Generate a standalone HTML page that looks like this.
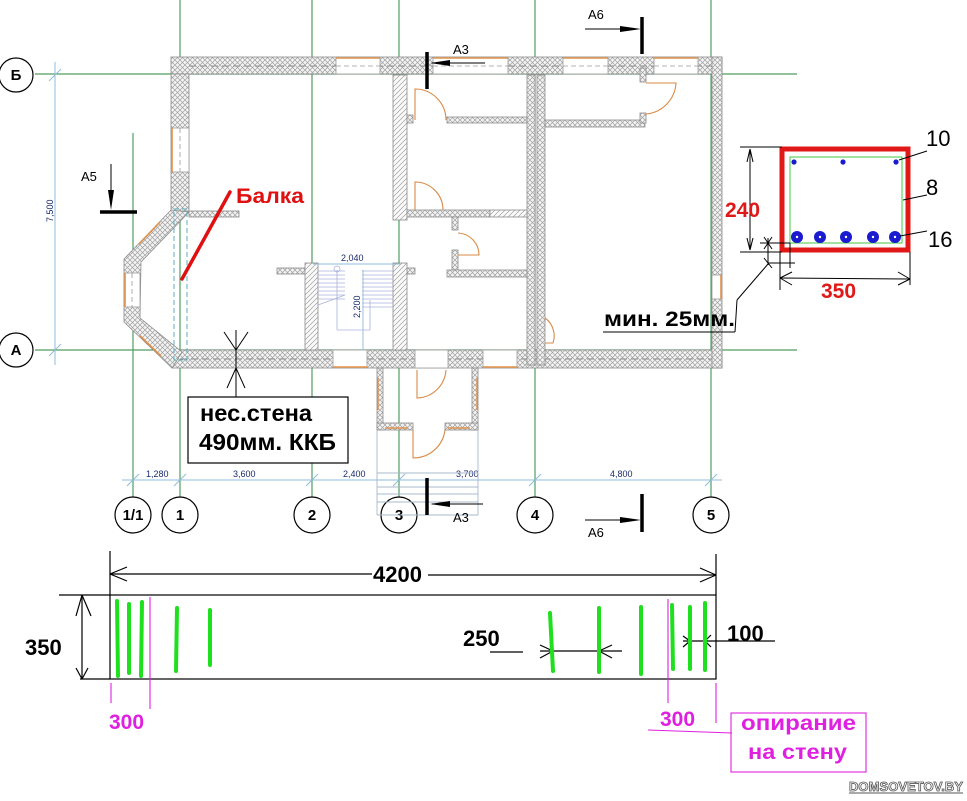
<!DOCTYPE html>
<html><head><meta charset="utf-8"><style>
html,body{margin:0;padding:0;background:#fff;}
svg{display:block;}
text{font-family:"Liberation Sans",Arial,sans-serif;}
</style></head><body>
<svg width="967" height="801" viewBox="0 0 967 801" xmlns="http://www.w3.org/2000/svg">
<defs>
<pattern id="ch" width="5" height="5" patternUnits="userSpaceOnUse"><rect width="5" height="5" fill="#f4f4f4"/><path d="M0 0L5 5M5 0L0 5" stroke="#a0a0a0" stroke-width="0.7"/></pattern>
<pattern id="dh" width="5" height="5" patternUnits="userSpaceOnUse"><rect width="5" height="5" fill="#fafafa"/><path d="M-1 1L1 -1M0 5L5 0M4 6L6 4" stroke="#a0a0a0" stroke-width="0.7"/></pattern>
</defs>
<rect width="967" height="801" fill="#fff"/>

<!-- grid lines -->
<g stroke="#4f9e62" stroke-width="1.2" fill="none">
<line x1="35" y1="74" x2="797" y2="74"/>
<line x1="35" y1="350" x2="797" y2="350"/>
<line x1="180" y1="0" x2="180" y2="497"/>
<line x1="133" y1="133" x2="133" y2="497"/>
<line x1="312" y1="0" x2="312" y2="497"/>
<line x1="399" y1="0" x2="399" y2="497"/>
<line x1="535" y1="0" x2="535" y2="497"/>
<line x1="711" y1="0" x2="711" y2="497"/>
</g>

<!-- dimension lines (blue) -->
<g stroke="#8fbcdc" stroke-width="1" fill="none">
<line x1="55" y1="62" x2="55" y2="365"/>
<line x1="49" y1="81" x2="61" y2="69"/>
<line x1="49" y1="356" x2="61" y2="344"/>
<line x1="122" y1="480" x2="722" y2="480"/>
<line x1="127" y1="486" x2="139" y2="474"/>
<line x1="174" y1="486" x2="186" y2="474"/>
<line x1="306" y1="486" x2="318" y2="474"/>
<line x1="393" y1="486" x2="405" y2="474"/>
<line x1="529" y1="486" x2="541" y2="474"/>
<line x1="705" y1="486" x2="717" y2="474"/>
</g>
<text x="0" y="0" transform="translate(53,222) rotate(-90)" font-size="9" fill="#1a2a6a">7,500</text>
<g font-size="9" fill="#1a2a6a">
<text x="146" y="477">1,280</text>
<text x="233" y="477">3,600</text>
<text x="343" y="477">2,400</text>
<text x="456" y="477">3,700</text>
<text x="610" y="477">4,800</text>
</g>

<!-- axis circles -->
<g stroke="#000" stroke-width="1.2" fill="#fff">
<circle cx="16" cy="75" r="17"/>
<circle cx="16" cy="350" r="17"/>
<circle cx="133" cy="515" r="18"/>
<circle cx="180" cy="515" r="18"/>
<circle cx="312" cy="515" r="18"/>
<circle cx="399" cy="515" r="18"/>
<circle cx="535" cy="515" r="18"/>
<circle cx="711" cy="515" r="18"/>
</g>
<g font-size="15" font-weight="bold" fill="#000" text-anchor="middle">
<text x="16" y="80">Б</text>
<text x="16" y="355">А</text>
<text x="133" y="520">1/1</text>
<text x="180" y="520">1</text>
<text x="312" y="520">2</text>
<text x="399" y="520">3</text>
<text x="535" y="520">4</text>
<text x="711" y="520">5</text>
</g>

<!-- outer walls -->
<g stroke="#8a8a8a" stroke-width="0.8" fill="url(#ch)">
<rect x="171" y="57" width="551" height="17"/>
<rect x="171" y="74" width="18" height="137"/>
<rect x="172" y="350" width="550" height="18"/>
<rect x="712" y="57" width="10" height="311"/>
<polygon points="171,210 189,212 141,262 140,318 182,352 172,368 124,322 124,259"/>
<rect x="189" y="211" width="50" height="6"/>
<rect x="277" y="268" width="28" height="6"/>
<rect x="407" y="268" width="8" height="6"/>
</g>
<!-- dashed center lines in walls -->
<g stroke="#8a8a8a" stroke-width="1" stroke-dasharray="7,4" fill="none">
<line x1="189" y1="66" x2="712" y2="66"/>
<line x1="180" y1="359" x2="712" y2="359"/>
</g>
<!-- windows -->
<g fill="#fff" stroke="#9a9a9a" stroke-width="0.8">
<rect x="336" y="57" width="44" height="17"/>
<rect x="433" y="57" width="75" height="17"/>
<rect x="563" y="57" width="45" height="17"/>
<rect x="654" y="57" width="44" height="17"/>
<rect x="171" y="128" width="18" height="44"/>
<rect x="333" y="350" width="34" height="18"/>
<rect x="415" y="350" width="33" height="18"/>
<rect x="483" y="350" width="34" height="18"/>
<rect x="712" y="275" width="10" height="24"/>
<rect x="124" y="273" width="16" height="34"/>
</g>
<g stroke="#e0904a" stroke-width="1.6" fill="none">
<line x1="336" y1="58" x2="380" y2="58"/>
<line x1="433" y1="58" x2="508" y2="58"/>
<line x1="563" y1="58" x2="608" y2="58"/>
<line x1="654" y1="58" x2="698" y2="58"/>
<line x1="172" y1="128" x2="172" y2="172"/>
<line x1="333" y1="367" x2="367" y2="367"/>
<line x1="483" y1="367" x2="517" y2="367"/>
<line x1="721" y1="275" x2="721" y2="299"/>
<line x1="125" y1="273" x2="125" y2="307"/>
<line x1="139" y1="244" x2="160" y2="222"/>
<line x1="140" y1="336" x2="161" y2="356"/>
</g>
<g stroke="#9a9a9a" stroke-width="0.8" stroke-dasharray="5,3" fill="none">
<line x1="336" y1="66" x2="380" y2="66"/>
<line x1="433" y1="66" x2="508" y2="66"/>
<line x1="563" y1="66" x2="608" y2="66"/>
<line x1="654" y1="66" x2="698" y2="66"/>
<line x1="180" y1="128" x2="180" y2="172"/>
<line x1="132" y1="273" x2="132" y2="307"/>
</g>
<!-- dashed beam outline -->
<rect x="174" y="209" width="13" height="151" fill="none" stroke="#5ab0c0" stroke-width="1" stroke-dasharray="5,3"/>

<!-- interior walls -->
<g stroke="#8a8a8a" stroke-width="0.8">
<rect x="393" y="75" width="14" height="145" fill="url(#dh)"/>
<rect x="527" y="75" width="8" height="290" fill="url(#ch)"/>
<rect x="537" y="75" width="8" height="290" fill="url(#ch)"/>
<rect x="447" y="117" width="80" height="6" fill="url(#ch)"/>
<rect x="407" y="115" width="6" height="8" fill="url(#ch)"/>
<rect x="407" y="210" width="83" height="7" fill="url(#ch)"/>
<rect x="490" y="210" width="37" height="7" fill="url(#dh)"/>
<rect x="452" y="217" width="6" height="13" fill="url(#ch)"/>
<rect x="452" y="250" width="6" height="20" fill="url(#ch)"/>
<rect x="447" y="270" width="80" height="7" fill="url(#ch)"/>
<rect x="545" y="120" width="100" height="7" fill="url(#ch)"/>
<rect x="640" y="68" width="6" height="14" fill="url(#ch)"/>
<rect x="640" y="113" width="6" height="10" fill="url(#ch)"/>
<rect x="305" y="263" width="13" height="87" fill="url(#dh)"/>
<rect x="393" y="263" width="14" height="87" fill="url(#dh)"/>
<!-- porch -->
<rect x="377" y="368" width="6" height="62" fill="url(#ch)"/>
<rect x="472" y="368" width="6" height="62" fill="url(#ch)"/>
<rect x="377" y="423" width="36" height="7" fill="url(#ch)"/>
<rect x="445" y="423" width="33" height="7" fill="url(#ch)"/>
</g>
<g stroke="#e0904a" stroke-width="1.4" fill="none">
<line x1="378" y1="378" x2="378" y2="410"/>
<line x1="477" y1="378" x2="477" y2="410"/>
<line x1="385" y1="428" x2="408" y2="428"/>
<line x1="448" y1="428" x2="470" y2="428"/>
</g>
<!-- doors -->
<g stroke="#d98a46" stroke-width="1.1" fill="none">
<path d="M415 120 L415 89 A31 31 0 0 1 446 120"/>
<path d="M415 210 L415 182 A28 28 0 0 1 443 210"/>
<path d="M458 233 A22 22 0 0 1 479 255 L458 255"/>
<path d="M646 83 L676 83 A33 33 0 0 1 646 114"/>
<path d="M545 318 A22 22 0 0 1 553 343 L545 343"/>
<path d="M417 370 L417 398 A30 30 0 0 0 446 370"/>
<path d="M413 430 L413 458 A32 32 0 0 0 445 430"/>
</g>

<!-- stair -->
<g stroke="#aab2dc" stroke-width="0.8" fill="none">
<line x1="318" y1="271" x2="345" y2="271"/><line x1="318" y1="275" x2="345" y2="275"/><line x1="318" y1="279" x2="345" y2="279"/><line x1="318" y1="283" x2="345" y2="283"/><line x1="318" y1="287" x2="345" y2="287"/><line x1="318" y1="291" x2="345" y2="291"/><line x1="318" y1="295" x2="345" y2="295"/><line x1="318" y1="299" x2="345" y2="299"/>
<line x1="362" y1="271" x2="393" y2="271"/><line x1="362" y1="275" x2="393" y2="275"/><line x1="362" y1="279" x2="393" y2="279"/><line x1="362" y1="283" x2="393" y2="283"/><line x1="362" y1="287" x2="393" y2="287"/><line x1="362" y1="291" x2="393" y2="291"/><line x1="362" y1="295" x2="393" y2="295"/><line x1="362" y1="299" x2="393" y2="299"/><line x1="362" y1="303" x2="393" y2="303"/><line x1="362" y1="307" x2="393" y2="307"/>
<line x1="337" y1="270" x2="337" y2="330"/>
<line x1="337" y1="330" x2="370" y2="330"/>
<line x1="370" y1="330" x2="370" y2="300"/>
<line x1="318" y1="305" x2="345" y2="295"/>
<circle cx="337" cy="269" r="3"/>
</g>
<g stroke="#8fbcdc" stroke-width="0.9" fill="none">
<line x1="313" y1="264" x2="400" y2="264"/>
<line x1="363" y1="270" x2="363" y2="350"/>
</g>
<text x="341" y="261" font-size="9" fill="#1a2a6a">2,040</text>
<text transform="translate(360,318) rotate(-90)" font-size="9" fill="#1a2a6a">2,200</text>
<!-- porch steps -->
<g stroke="#a8b8cc" stroke-width="0.9" fill="none">
<line x1="377" y1="430" x2="377" y2="515"/>
<line x1="478" y1="430" x2="478" y2="515"/>
<line x1="377" y1="473" x2="478" y2="473"/>
<line x1="377" y1="487" x2="478" y2="487"/>
<line x1="377" y1="494" x2="478" y2="494"/>
<line x1="377" y1="502" x2="478" y2="502"/>
<line x1="377" y1="515" x2="478" y2="515"/>
</g>

<!-- section markers -->
<g stroke="#000" fill="none">
<line x1="111" y1="164" x2="111" y2="200" stroke-width="1"/>
<line x1="100" y1="212" x2="137" y2="212" stroke-width="3.5"/>
<line x1="427" y1="52" x2="427" y2="89" stroke-width="3.5"/>
<line x1="432" y1="63" x2="485" y2="63" stroke-width="1"/>
<line x1="642" y1="17" x2="642" y2="54" stroke-width="3.5"/>
<line x1="585" y1="29" x2="630" y2="29" stroke-width="1"/>
<line x1="427" y1="478" x2="427" y2="515" stroke-width="3.5"/>
<line x1="432" y1="504" x2="483" y2="504" stroke-width="1"/>
<line x1="642" y1="494" x2="642" y2="532" stroke-width="3.5"/>
<line x1="585" y1="520" x2="630" y2="520" stroke-width="1"/>
</g>
<g fill="#000">
<polygon points="108,190 114,190 111,210"/>
<polygon points="430,63 450,60 450,66"/>
<polygon points="641,29 620,26 620,32"/>
<polygon points="430,504 450,501 450,507"/>
<polygon points="641,520 620,517 620,523"/>
</g>
<g font-size="13" fill="#000">
<text x="81" y="181">А5</text>
<text x="453" y="54">А3</text>
<text x="588" y="19">А6</text>
<text x="453" y="522">А3</text>
<text x="588" y="537">А6</text>
</g>

<!-- Balka -->
<line x1="182" y1="279" x2="230" y2="192" stroke="#e01010" stroke-width="3.5" stroke-linecap="round"/>
<text x="236" y="203" font-size="21" font-weight="bold" fill="#e01010" textLength="68" lengthAdjust="spacingAndGlyphs">Балка</text>

<!-- load bearing wall note -->
<g stroke="#000" stroke-width="1" fill="none">
<line x1="236" y1="330" x2="236" y2="397"/>
<line x1="224" y1="332" x2="236" y2="350"/>
<line x1="248" y1="332" x2="236" y2="350"/>
<line x1="227" y1="388" x2="236" y2="368"/>
<line x1="245" y1="388" x2="236" y2="368"/>
<rect x="188" y="397" width="160" height="66" fill="#fff" stroke-width="1.2"/>
</g>
<text x="200" y="421" font-size="23" font-weight="bold" fill="#000" textLength="112" lengthAdjust="spacingAndGlyphs">нес.стена</text>
<text x="199" y="450" font-size="23" font-weight="bold" fill="#000" textLength="137" lengthAdjust="spacingAndGlyphs">490мм. ККБ</text>

<!-- section detail -->
<rect x="782" y="149" width="126" height="101" fill="none" stroke="#e01818" stroke-width="5"/>
<rect x="790" y="157" width="112" height="86" fill="none" stroke="#40c840" stroke-width="1"/>
<g fill="#1a1ad0">
<circle cx="794" cy="162" r="2.6"/>
<circle cx="843" cy="162" r="2.6"/>
<circle cx="896" cy="162" r="2.6"/>
<circle cx="797" cy="237" r="6"/>
<circle cx="820" cy="237" r="6"/>
<circle cx="846" cy="237" r="6"/>
<circle cx="873" cy="237" r="6"/>
<circle cx="895" cy="237" r="6"/>
</g>
<g fill="#fff"><circle cx="797" cy="237" r="1.2"/><circle cx="820" cy="237" r="1.2"/><circle cx="846" cy="237" r="1.2"/><circle cx="873" cy="237" r="1.2"/><circle cx="895" cy="237" r="1.2"/></g>
<g stroke="#000" stroke-width="1" fill="none">
<line x1="899" y1="160" x2="927" y2="151"/>
<line x1="903" y1="200" x2="927" y2="195"/>
<line x1="900" y1="236" x2="927" y2="231"/>
<line x1="740" y1="147" x2="782" y2="147"/>
<line x1="740" y1="252" x2="782" y2="252"/>
<line x1="750" y1="149" x2="750" y2="250"/>
<line x1="747" y1="162" x2="750" y2="149"/><line x1="753" y1="162" x2="750" y2="149"/>
<line x1="747" y1="238" x2="750" y2="250"/><line x1="753" y1="238" x2="750" y2="250"/>
<line x1="780" y1="252" x2="780" y2="290"/>
<line x1="910" y1="252" x2="910" y2="285"/>
<line x1="780" y1="278" x2="910" y2="279"/>
<line x1="792" y1="272" x2="780" y2="278"/><line x1="792" y1="285" x2="780" y2="278"/>
<line x1="898" y1="272" x2="910" y2="279"/><line x1="898" y1="285" x2="910" y2="279"/>
<line x1="760" y1="243" x2="790" y2="243"/>
<line x1="768" y1="238" x2="768" y2="265"/>
<line x1="768" y1="263" x2="795" y2="263"/>
<line x1="790" y1="243" x2="790" y2="268"/>
<line x1="764" y1="237" x2="772" y2="249"/><line x1="772" y1="237" x2="764" y2="249"/>
<line x1="764" y1="258" x2="772" y2="268"/>
<line x1="737" y1="300" x2="768" y2="264"/>
<line x1="737" y1="300" x2="735" y2="332"/>
<line x1="603" y1="332" x2="735" y2="332"/>
</g>
<g font-size="22" fill="#000">
<text x="926" y="146">10</text>
<text x="926" y="195">8</text>
<text x="928" y="247">16</text>
</g>
<text x="725" y="217" font-size="21" font-weight="bold" fill="#e01818">240</text>
<text x="821" y="298" font-size="21" font-weight="bold" fill="#e01818">350</text>
<text x="604" y="326" font-size="21" font-weight="bold" fill="#000" textLength="131" lengthAdjust="spacingAndGlyphs">мин. 25мм.</text>

<!-- beam elevation -->
<g stroke="#000" stroke-width="1.2" fill="none">
<rect x="110" y="595" width="606" height="84"/>
<line x1="110" y1="551" x2="110" y2="595"/>
<line x1="716" y1="554" x2="716" y2="595"/>
<line x1="59" y1="595" x2="110" y2="595"/>
<line x1="80" y1="679" x2="110" y2="679"/>
<line x1="110" y1="574" x2="372" y2="574"/>
<line x1="428" y1="575" x2="716" y2="575"/>
<line x1="127" y1="567" x2="110" y2="574"/><line x1="127" y1="581" x2="110" y2="574"/>
<line x1="700" y1="568" x2="716" y2="575"/><line x1="700" y1="582" x2="716" y2="575"/>
<line x1="82" y1="595" x2="82" y2="679"/>
<line x1="76" y1="616" x2="82" y2="595"/><line x1="91" y1="616" x2="82" y2="595"/>
<line x1="76" y1="668" x2="82" y2="679"/><line x1="88" y1="668" x2="82" y2="679"/>
<line x1="490" y1="652" x2="523" y2="652"/>
<line x1="540" y1="651" x2="622" y2="651"/>
<line x1="540" y1="645" x2="553" y2="651"/><line x1="540" y1="658" x2="553" y2="651"/>
<line x1="612" y1="645" x2="599" y2="651"/><line x1="612" y1="658" x2="599" y2="651"/>
<line x1="683" y1="641" x2="775" y2="641"/>
<line x1="683" y1="636" x2="690" y2="641"/><line x1="683" y1="647" x2="690" y2="641"/>
<line x1="711" y1="635" x2="705" y2="641"/><line x1="711" y1="647" x2="705" y2="641"/>
</g>
<g stroke="#1ee01e" stroke-width="4" stroke-linecap="round" fill="none">
<line x1="117" y1="601" x2="118" y2="676"/>
<line x1="129" y1="604" x2="129" y2="673"/>
<line x1="142" y1="602" x2="141" y2="676"/>
<line x1="177" y1="608" x2="176" y2="671"/>
<line x1="210" y1="610" x2="210" y2="665"/>
<line x1="550" y1="613" x2="553" y2="671"/>
<line x1="599" y1="608" x2="599" y2="672"/>
<line x1="641" y1="607" x2="641" y2="674"/>
<line x1="672" y1="605" x2="673" y2="669"/>
<line x1="690" y1="607" x2="690" y2="669"/>
<line x1="705" y1="603" x2="705" y2="670"/>
</g>
<g font-size="22" font-weight="bold" fill="#000">
<text x="373" y="582">4200</text>
<text x="25" y="655">350</text>
<text x="463" y="646">250</text>
<text x="727" y="641">100</text>
</g>
<g stroke="#e020e0" stroke-width="1.1" fill="none">
<line x1="111" y1="683" x2="111" y2="703"/>
<line x1="150" y1="597" x2="150" y2="709"/>
<line x1="668" y1="599" x2="668" y2="703"/>
<line x1="716" y1="683" x2="716" y2="723"/>
<line x1="648" y1="730" x2="732" y2="733"/>
<rect x="731" y="713" width="135" height="59"/>
</g>
<g font-size="21" font-weight="bold" fill="#e020e0">
<text x="109" y="729">300</text>
<text x="660" y="726">300</text>
<text x="741" y="730" textLength="115" lengthAdjust="spacingAndGlyphs">опирание</text>
<text x="748" y="759" textLength="99" lengthAdjust="spacingAndGlyphs">на стену</text>
</g>
<text x="849" y="791" font-size="13" font-weight="bold" fill="#fff" stroke="#555" stroke-width="0.8" textLength="114">DOMSOVETOV.BY</text>
<line x1="849" y1="793" x2="963" y2="793" stroke="#555" stroke-width="1"/>
</svg>
</body></html>
